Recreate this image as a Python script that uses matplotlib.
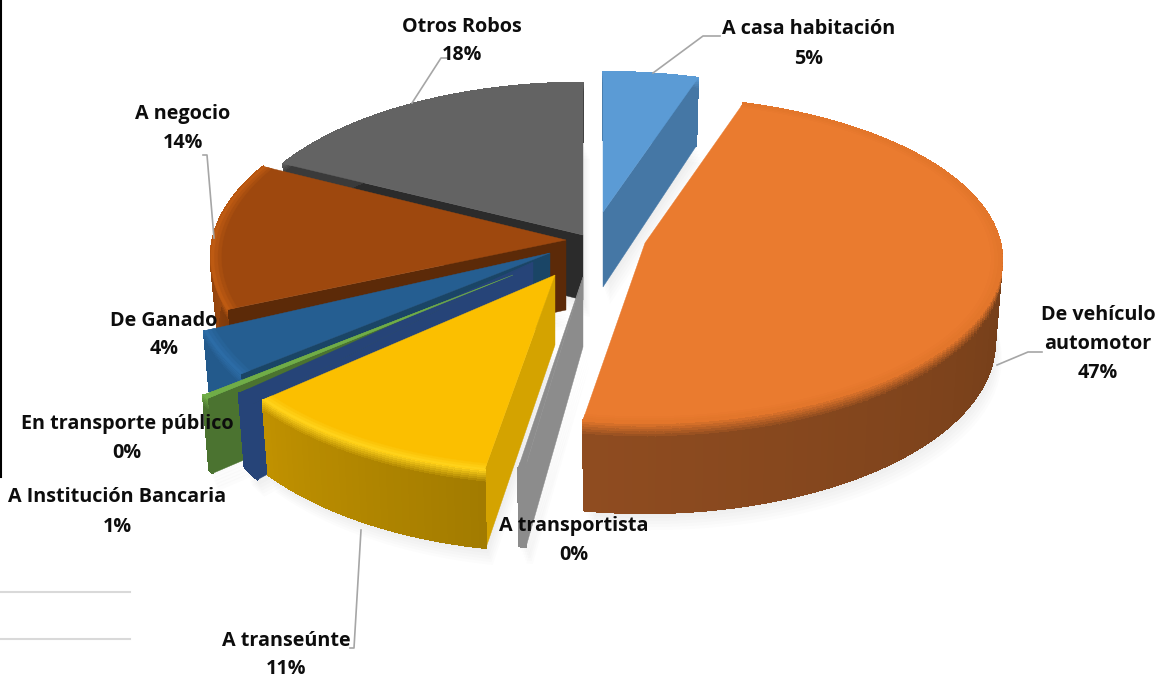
import numpy as np
import matplotlib
matplotlib.use("Agg")
import matplotlib.pyplot as plt
from matplotlib.collections import PolyCollection
from matplotlib.colors import to_rgb

categories = ["A casa habitación", "De vehículo\nautomotor", "A transportista", "A transeúnte",
              "A Institución Bancaria", "En transporte público", "De Ganado", "A negocio", "Otros Robos"]
values = [4.9, 47.4, 0.3, 10.8, 1.0, 0.3, 3.7, 13.6, 17.6]
shown = ["5%", "47%", "0%", "11%", "1%", "0%", "4%", "14%", "18%"]

top_col = ["#5B9BD5", "#EA7B2F", "#8C8C8C", "#FBBF00", "#264478", "#70AD47", "#255E91", "#9E480E", "#636363"]
bevel_col = ["#5B9BD5", "#E3762B", "#8C8C8C", "#FFD21A", "#264478", "#70AD47", "#2C6CA6", "#BD5A12", "#636363"]
face_col = ["#4577A5", "#8B4A20", "#8C8C8C", "#D4A300", "#264478", "#4B7330", "#1A4566", "#5C2A08", "#2B2B2B"]
wall_a = ["#4577A5", "#5E3314", "#8C8C8C", "#A27B00", "#264478", "#4B7330", "#235A8C", "#7F3A0B", "#3A3A3A"]
wall_b = ["#4577A5", "#8F4C20", "#8C8C8C", "#C09100", "#264478", "#4B7330", "#235A8C", "#B85510", "#3A3A3A"]
apex_x = [603, 645, 583, 555, 533, 513, 550, 566, 583]
apex_y = [212, 243, 277, 275, 262, 275, 253, 240, 235]
scale_x = [0.98, 1.015, 0.95, 1.03, 0.99, 1.03, 1.03, 1.01, 1.0]
scale_y = [0.92, 0.96, 1.04, 1.06, 1.21, 1.14, 1.15, 1.03, 1.0]
height = [75, 81, 70, 70, 70, 70, 70, 70, 65]
order = [8, 7, 6, 5, 4, 3, 2, 0, 1]
start_face = [False, False, True, True, True, True, True, True, True]
end_face = [True, False, False, False, False, False, False, False, False]

RX, RY, K = 350.0, 168.0, 0.103

fracs = np.array(values) / np.sum(values)
edges = np.concatenate([[0], np.cumsum(fracs)]) * 2 * np.pi


def rim(i, th, z=0.0, r=1.0):
    w = 1 + K * np.cos(th) * r
    x = apex_x[i] + r * scale_x[i] * RX * np.sin(th) / w
    y = apex_y[i] - r * scale_y[i] * RY * np.cos(th) / w
    y = y + z * height[i] / w
    x = x + z * (apex_x[i] - x) * 0.02
    return x, y


def lerp(a, b, t):
    a, b = np.array(to_rgb(a)), np.array(to_rgb(b))
    return tuple(a + (b - a) * float(np.clip(t, 0, 1)))


def draw_top(i, ths, z):
    xs, ys = rim(i, ths)
    ax.fill(np.r_[apex_x[i], xs], np.r_[apex_y[i], ys], color=top_col[i], lw=0.3, zorder=z)
    radii = np.linspace(0.97, 1.0, 4)
    for n, (r0, r1) in enumerate(zip(radii[:-1], radii[1:])):
        x0, y0 = rim(i, ths, 0, r0)
        x1, y1 = rim(i, ths, 0, r1)
        c = lerp(top_col[i], bevel_col[i], (n + 1) / 3)
        ax.fill(np.r_[x0, x1[::-1]], np.r_[y0, y1[::-1]], color=c, lw=0.3, zorder=z)


plt.rcParams["font.family"] = ["Open Sans", "DejaVu Sans"]
fig = plt.figure(figsize=(11.59, 6.80), dpi=100)
ax = fig.add_axes([0, 0, 1, 1])
ax.set_xlim(0, 1159)
ax.set_ylim(680, 0)
ax.axis("off")

# soft shadows behind the pie
for i in range(9):
    th = np.linspace(edges[i], edges[i + 1], 60)
    xs, ys = rim(i, th, 1.0)
    for d in range(2, 20, 3):
        ax.fill(np.r_[apex_x[i] + d * 0.4, xs + d * 0.4], np.r_[apex_y[i] + height[i] + d, ys + d],
                color="#808080", alpha=0.022, lw=0, zorder=1)

z = 2
row_z = np.r_[np.linspace(0, 0.16, 7), 1.0]
for i in order:
    a, b = edges[i], edges[i + 1]
    for flag, th in ((start_face[i], a), (end_face[i], b)):
        if flag:
            x0, y0 = rim(i, th)
            x1, y1 = rim(i, th, 1.0)
            ax.fill([apex_x[i], x0, x1, apex_x[i]], [apex_y[i], y0, y1, apex_y[i] + height[i]],
                    color=face_col[i], lw=0.3, zorder=z)
            z += 1
    ths = np.linspace(a, b, max(6, int((b - a) * 50)))
    polys, cols = [], []
    for t0, t1 in zip(ths[:-1], ths[1:]):
        tm = (t0 + t1) / 2 - a
        wall = lerp(wall_a[i], wall_b[i], tm / max(b - a, 1e-6))
        for r, (z0, z1) in enumerate(zip(row_z[:-1], row_z[1:])):
            x00, y00 = rim(i, t0, z0)
            x10, y10 = rim(i, t1, z0)
            x11, y11 = rim(i, t1, z1)
            x01, y01 = rim(i, t0, z1)
            polys.append([(x00, y00), (x10, y10), (x11, y11), (x01, y01)])
            cols.append(lerp(bevel_col[i], wall, r / (len(row_z) - 2)))
    ax.add_collection(PolyCollection(polys, facecolors=cols, edgecolors=cols, linewidths=0.8,
                                     antialiaseds=False, zorder=z))
    z += 1
    draw_top(i, ths, z)
    z += 1
    if i == 4:  # the thin green slice lies on top of the navy one
        draw_top(5, np.linspace(edges[5], edges[6], 6), z)
        z += 1

# leader lines
leader_x = [[653, 703, 720], [412, 441, 447], [214, 207, 203], [361, 354, 350], [997, 1028, 1042]]
leader_y = [[73, 36, 36], [103, 58, 58], [238, 155, 155], [530, 648, 648], [365, 352, 352]]
for lx, ly in zip(leader_x, leader_y):
    ax.plot(lx, ly, color="#A6A6A6", lw=1.2, zorder=z)
z += 1

# labels
label_x = [809, 1098, 574, 286, 117, 127, 164, 183, 462]
label_y = [44, 344, 540, 655, 512, 439, 335, 128, 41]
for name, pct, lx, ly in zip(categories, shown, label_x, label_y):
    ax.text(lx, ly, name + "\n" + pct, ha="center", va="center", fontsize=14.2,
            fontweight="bold", color="#0D0D0D", linespacing=1.6, zorder=z)

# fragments at the left edge of the picture
ax.plot([0.5, 0.5], [0, 477], color="#000000", lw=1.5, zorder=z)
for gy in (592, 639):
    ax.plot([0, 130], [gy, gy], color="#D9D9D9", lw=1.5, zorder=z)

fig.savefig("out.png", dpi=100)
